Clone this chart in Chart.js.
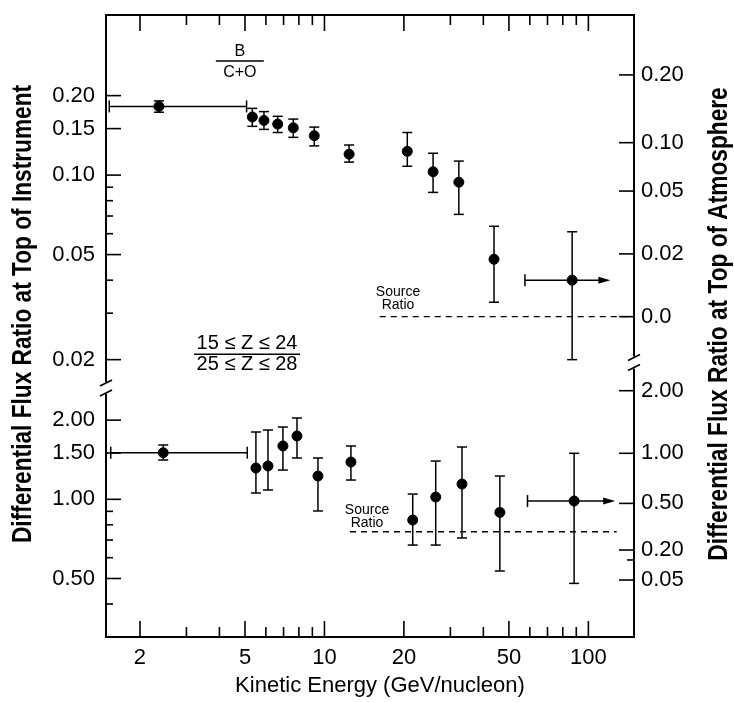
<!DOCTYPE html>
<html lang="en">
<head>
<meta charset="UTF-8">
<title>Flux ratios vs kinetic energy</title>
<script src="https://cdn.jsdelivr.net/npm/chart.js@4.4.0/dist/chart.umd.min.js"></script>
<style>
  html, body { margin: 0; padding: 0; background: #fff; }
  #wrap { position: relative; width: 734px; height: 702px; }
</style>
</head>
<body>
<div id="wrap"><canvas id="chart"></canvas></div>
<script>
// x axis: kinetic energy, GeV/nucleon
const xTicks      = [2, 3, 4, 5, 6, 7, 8, 9, 10, 20, 30, 40, 50, 60, 70, 80, 90, 100];
const xTickLabels = ['2', '', '', '5', '', '', '', '', '10', '20', '', '', '50', '', '', '', '', '100'];

// upper panel, B/(C+O)
const bcoEnergy = [2.36, 5.33, 5.90, 6.65, 7.62, 9.15, 12.4, 20.6, 25.8, 32.3, 43.9, 86.8];
const bcoRatio  = [0.182, 0.166, 0.161, 0.156, 0.151, 0.141, 0.120, 0.123, 0.103, 0.094, 0.048, 0.040];
const bcoLow    = [0.173, 0.153, 0.149, 0.145, 0.139, 0.129, 0.112, 0.108, 0.086, 0.071, 0.033, 0.020];
const bcoHigh   = [0.191, 0.179, 0.174, 0.167, 0.163, 0.152, 0.130, 0.145, 0.121, 0.113, 0.064, 0.061];
const bcoELow   = [1.53, null, null, null, null, null, null, null, null, null, null, 57.5];
const bcoEHigh  = [5.07, null, null, null, null, null, null, null, null, null, null, 117];
const bcoArrow  = [false, false, false, false, false, false, false, false, false, false, false, true];
const bcoSourceX = [16.2, 149];
const bcoSource  = 0.0291;

// lower panel, (15<=Z<=24)/(25<=Z<=28)
const feEnergy = [2.45, 5.50, 6.11, 6.96, 7.87, 9.45, 12.6, 21.6, 26.4, 33.2, 46.2, 88.3];
const feRatio  = [1.504, 1.315, 1.339, 1.595, 1.741, 1.226, 1.386, 0.834, 1.02, 1.143, 0.892, 0.985];
const feLow    = [1.411, 1.057, 1.085, 1.292, 1.436, 0.903, 1.184, 0.670, 0.670, 0.713, 0.534, 0.479];
const feHigh   = [1.609, 1.803, 1.834, 1.883, 2.038, 1.436, 1.595, 1.047, 1.398, 1.581, 1.226, 1.496];
const feELow   = [1.55, null, null, null, null, null, null, null, null, null, null, 58.8];
const feEHigh  = [5.1, null, null, null, null, null, null, null, null, null, null, 122];
const feArrow  = [false, false, false, false, false, false, false, false, false, false, false, true];
const feSourceX = [12.5, 128];
const feSource  = 0.753;

// left axis (top of instrument)
const yTopTicks  = [0.02, 0.03, 0.04, 0.05, 0.06, 0.07, 0.08, 0.09, 0.10, 0.15, 0.20];
const yTopLabels = ['0.02', '', '', '0.05', '', '', '', '', '0.10', '0.15', '0.20'];
const yBotTicks  = [0.4, 0.5, 0.6, 0.7, 0.8, 0.9, 1.0, 1.5, 2.0];
const yBotLabels = ['', '0.50', '', '', '', '', '1.00', '1.50', '2.00'];
// right axis (top of atmosphere), placed at the instrument value they line up with
const rTopTicks  = [0.0291, 0.0503, 0.087, 0.1327, 0.2396];
const rTopLabels = ['0.0', '0.02', '0.05', '0.10', '0.20'];
const rBotTicks  = [0.4933, 0.588, 0.6415, 0.965, 1.496, 2.588];
const rBotLabels = ['0.05', '', '0.20', '0.50', '1.00', '2.00'];

const tickFont = { family: '"Liberation Sans", Arial, sans-serif', size: 22 };
const titleFont = 'bold 27px "Liberation Sans", Arial, sans-serif';

function points(xs, ys) {
    return xs.map((x, i) => ({ x: x, y: ys[i] }));
}

function fixedTicks(values) {
    return scale => { scale.ticks = values.map(v => ({ value: v })); };
}

function noPadding(scale) {
    scale.paddingTop = 0;
    scale.paddingBottom = 0;
    scale.paddingLeft = 0;
    scale.paddingRight = 0;
}

function yScale(stack, weight, min, max, values, labels, position) {
    return {
        type: 'logarithmic',
        position: position,
        stack: stack,
        stackWeight: weight,
        min: min,
        max: max,
        afterBuildTicks: fixedTicks(values),
        afterFit: scale => {
            scale.width = position === 'left' ? 106 : 100;
            noPadding(scale);
        },
        ticks: {
            callback: (v, i) => labels[i],
            autoSkip: false,
            padding: position === 'left' ? 11 : 7,
            font: tickFont,
            color: '#000'
        },
        grid: { display: false, drawTicks: false },
        border: { display: false }
    };
}

function line(ctx, x1, y1, x2, y2) {
    ctx.beginPath();
    ctx.moveTo(x1, y1);
    ctx.lineTo(x2, y2);
    ctx.stroke();
}

// error bars, drawn under the dots
const errorBars = {
    id: 'errorBars',
    beforeDatasetsDraw(chart) {
        const ctx = chart.ctx;
        const xs = chart.scales.x;
        const sets = [
            [chart.scales.yTop, bcoEnergy, bcoRatio, bcoLow, bcoHigh, bcoELow, bcoEHigh, bcoArrow],
            [chart.scales.yBot, feEnergy, feRatio, feLow, feHigh, feELow, feEHigh, feArrow]
        ];
        ctx.save();
        ctx.strokeStyle = '#000';
        ctx.fillStyle = '#000';
        ctx.lineWidth = 1.5;
        sets.forEach(([ys, ex, ey, lo, hi, elo, ehi, arrow]) => {
            ex.forEach((e, i) => {
                const px = xs.getPixelForValue(e);
                const py = ys.getPixelForValue(ey[i]);
                const top = ys.getPixelForValue(hi[i]);
                const bot = ys.getPixelForValue(lo[i]);
                line(ctx, px, top, px, bot);
                line(ctx, px - 5, top, px + 5, top);
                line(ctx, px - 5, bot, px + 5, bot);
                if (elo[i] != null) {
                    const l = xs.getPixelForValue(elo[i]);
                    const r = xs.getPixelForValue(ehi[i]);
                    line(ctx, l, py, r, py);
                    line(ctx, l, py - 6, l, py + 6);
                    if (arrow[i]) {
                        ctx.beginPath();
                        ctx.moveTo(r + 4, py);
                        ctx.lineTo(r - 8, py - 3.5);
                        ctx.lineTo(r - 8, py + 3.5);
                        ctx.closePath();
                        ctx.fill();
                    } else {
                        line(ctx, r, py - 6, r, py + 6);
                    }
                }
            });
        });
        ctx.restore();
    }
};

// frame, inward ticks, axis breaks and the lettering
const paperFrame = {
    id: 'paperFrame',
    afterDraw(chart) {
        const ctx = chart.ctx;
        const a = chart.chartArea;
        const s = chart.scales;
        ctx.save();
        ctx.strokeStyle = '#000';
        ctx.fillStyle = '#000';

        ctx.lineWidth = 2;
        ctx.strokeRect(a.left, a.top, a.right - a.left, a.bottom - a.top);

        ctx.lineWidth = 1.6;
        xTicks.forEach((v, i) => {
            const px = s.x.getPixelForValue(v);
            const len = xTickLabels[i] ? 16 : 10;
            line(ctx, px, a.bottom, px, a.bottom - len);
            line(ctx, px, a.top, px, a.top + len);
        });
        [[s.yTop, yTopTicks, yTopLabels], [s.yBot, yBotTicks, yBotLabels]].forEach(([sc, vals, labs]) => {
            vals.forEach((v, i) => {
                const py = sc.getPixelForValue(v);
                line(ctx, a.left, py, a.left + (labs[i] ? 15 : 7), py);
            });
        });
        [[s.rTop, rTopTicks, rTopLabels], [s.rBot, rBotTicks, rBotLabels]].forEach(([sc, vals, labs]) => {
            vals.forEach((v, i) => {
                const py = sc.getPixelForValue(v);
                line(ctx, a.right, py, a.right - (labs[i] ? 15 : 7), py);
            });
        });

        // axis breaks
        function axisBreak(x, y) {
            ctx.save();
            ctx.fillStyle = '#fff';
            ctx.fillRect(x - 3, y - 6, 6, 12);
            ctx.restore();
            ctx.lineWidth = 1.8;
            line(ctx, x - 6, y - 2, x + 6, y - 8);
            line(ctx, x - 6, y + 8, x + 6, y + 2);
        }
        axisBreak(a.left, s.yTop.bottom);
        axisBreak(a.right, s.rTop.getPixelForValue(0.0195));

        // panel labels
        const txt = size => size + 'px "Liberation Sans", Arial, sans-serif';
        ctx.textAlign = 'center';
        ctx.textBaseline = 'middle';
        function fraction(x, y, upper, lower, width, size, up, down) {
            ctx.font = txt(size);
            ctx.fillText(upper, x, y - up);
            ctx.fillText(lower, x, y + down);
            ctx.lineWidth = 1.5;
            line(ctx, x - width / 2, y, x + width / 2, y);
        }
        fraction(s.x.getPixelForValue(4.78), s.yTop.getPixelForValue(0.2706), 'B', 'C+O', 48, 16, 9, 12);
        fraction(s.x.getPixelForValue(5.09), s.yTop.getPixelForValue(0.02096), '15 \u2264 Z \u2264 24', '25 \u2264 Z \u2264 28', 106, 20, 11, 10);

        ctx.font = txt(14);
        let px = s.x.getPixelForValue(19.0);
        let py = s.yTop.getPixelForValue(bcoSource);
        ctx.fillText('Source', px, py - 25);
        ctx.fillText('Ratio', px, py - 12);
        px = s.x.getPixelForValue(14.5);
        py = s.yBot.getPixelForValue(feSource);
        ctx.fillText('Source', px, py - 22);
        ctx.fillText('Ratio', px, py - 9);

        // axis titles (lettering in the paper is condensed)
        ctx.font = '22px "Liberation Sans", Arial, sans-serif';
        ctx.fillText('Kinetic Energy (GeV/nucleon)', 380, 686);
        ctx.font = titleFont;
        ctx.save();
        ctx.translate(24, 314);
        ctx.rotate(-Math.PI / 2);
        ctx.scale(0.84, 1);
        ctx.fillText('Differential Flux Ratio at Top of Instrument', 0, 0);
        ctx.restore();
        ctx.save();
        ctx.translate(720, 324);
        ctx.rotate(-Math.PI / 2);
        ctx.scale(0.84, 1);
        ctx.fillText('Differential Flux Ratio at Top of Atmosphere', 0, 0);
        ctx.restore();

        ctx.restore();
    }
};

const dots = { pointRadius: 5, pointHoverRadius: 5, backgroundColor: '#000', borderColor: '#000', showLine: false };
const dashed = { showLine: true, borderColor: '#000', borderWidth: 1.4, borderDash: [6, 5], pointRadius: 0, fill: false };

new Chart(document.getElementById('chart'), {
    type: 'scatter',
    data: {
        datasets: [
            Object.assign({ label: 'B/(C+O)', yAxisID: 'yTop', data: points(bcoEnergy, bcoRatio) }, dots),
            Object.assign({ label: 'B/(C+O) source ratio', yAxisID: 'yTop', data: bcoSourceX.map(x => ({ x: x, y: bcoSource })) }, dashed),
            Object.assign({ label: '(15-24)/(25-28)', yAxisID: 'yBot', data: points(feEnergy, feRatio) }, dots),
            Object.assign({ label: '(15-24)/(25-28) source ratio', yAxisID: 'yBot', data: feSourceX.map(x => ({ x: x, y: feSource })) }, dashed)
        ]
    },
    options: {
        responsive: true,
        maintainAspectRatio: false,
        animation: false,
        layout: { padding: { top: 15, left: 0, right: 0, bottom: 0 } },
        plugins: { legend: { display: false }, tooltip: { enabled: false } },
        scales: {
            x: {
                type: 'logarithmic',
                min: 1.487,
                max: 148.9,
                afterBuildTicks: fixedTicks(xTicks),
                afterFit: scale => { scale.height = 65; noPadding(scale); },
                ticks: {
                    callback: (v, i) => xTickLabels[i],
                    autoSkip: false,
                    maxRotation: 0,
                    padding: 8,
                    font: tickFont,
                    color: '#000'
                },
                grid: { display: false, drawTicks: false },
                border: { display: false }
            },
            yBot: yScale('left', 249, 0.2996, 2.65, yBotTicks, yBotLabels, 'left'),
            yTop: yScale('left', 373, 0.01562, 0.404, yTopTicks, yTopLabels, 'left'),
            rTop: yScale('right', 373, 0.01562, 0.404, rTopTicks, rTopLabels, 'right'),
            rBot: yScale('right', 249, 0.2996, 2.65, rBotTicks, rBotLabels, 'right')
        }
    },
    plugins: [errorBars, paperFrame]
});
</script>
</body>
</html>
